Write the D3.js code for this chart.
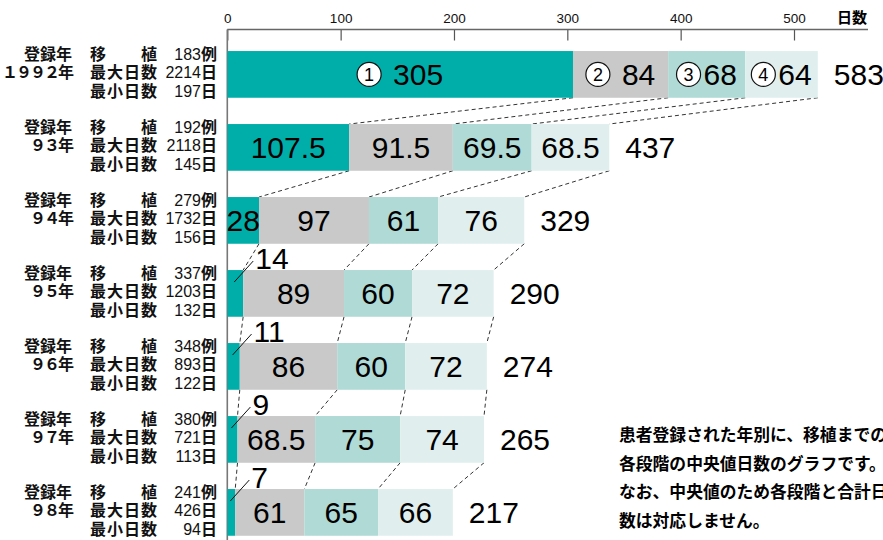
<!DOCTYPE html>
<html>
<head>
<meta charset="utf-8">
<script src="https://cdn.jsdelivr.net/npm/d3@7"></script>
<style>
body { margin: 0; background: #fff; }
svg { display: block; }
</style>
</head>
<body>
<div id="chart"></div>
<script>
// data
var years = ["1992", "93", "94", "95", "96", "97", "98"];
var yearLabels = ["１９９２年", "９３年", "９４年", "９５年", "９６年", "９７年", "９８年"];
var cases = [183, 192, 279, 337, 348, 380, 241];
var maxDays = [2214, 2118, 1732, 1203, 893, 721, 426];
var minDays = [197, 145, 156, 132, 122, 113, 94];
var stage1 = [305, 107.5, 28, 14, 11, 9, 7];
var stage2 = [84, 91.5, 97, 89, 86, 68.5, 61];
var stage3 = [68, 69.5, 61, 60, 60, 75, 65];
var stage4 = [64, 68.5, 76, 72, 72, 74, 66];
var totals = [583, 437, 329, 290, 274, 265, 217];
var tickValues = [0, 100, 200, 300, 400, 500];
var noteLines = [
    "患者登録された年別に、移植までの",
    "各段階の中央値日数のグラフです。",
    "なお、中央値のため各段階と合計日",
    "数は対応しません。"
];

var stages = [stage1, stage2, stage3, stage4];
var colours = ["#00aea9", "#c9c9c9", "#b0dad6", "#e0efee"];
var circled = ["1", "2", "3", "4"];

var width = 883, height = 540;
var numFont = "'Liberation Sans', Arial, sans-serif";
var jpFont = "'Noto Sans CJK JP', sans-serif";

var svg = d3.select("#chart")
.append("svg")
.attr("width", width)
.attr("height", height);

var x = d3.scaleLinear()
.domain([0, 500])
.range([227.3, 794]);

var y = d3.scaleBand()
.domain(years)
.range([37.9, 37.9 + 7 * 73])
.paddingInner(0.36)
.paddingOuter(0.18);

var bh = y.bandwidth();

// stacked table
var rows = years.map(function (yr, i) {
    var cum = 0;
    var segs = stages.map(function (s, k) {
        var seg = {stage: k, value: s[i], x0: cum, x1: cum + s[i]};
        cum += s[i];
        return seg;
    });
    return {year: yr, index: i, segs: segs, end: cum};
});

// axis
var axisY = 29.5;
var axis = svg.append("g")
.attr("transform", "translate(0," + axisY + ")")
.call(d3.axisTop(x).tickValues(tickValues).tickSize(-11).tickSizeOuter(0).tickPadding(7));
axis.select(".domain").remove();
axis.selectAll(".tick line").attr("stroke", "#555").attr("stroke-width", 1.2);
axis.selectAll(".tick text")
.style("font-family", numFont)
.style("font-size", "13.5px")
.attr("fill", "#111");

svg.append("line")
.attr("x1", x(0)).attr("x2", 868)
.attr("y1", axisY).attr("y2", axisY)
.attr("stroke", "#666").attr("stroke-width", 1.3);
svg.append("line")
.attr("x1", x(0)).attr("x2", x(0))
.attr("y1", axisY).attr("y2", height)
.attr("stroke", "#777").attr("stroke-width", 1.6);

svg.append("text")
.attr("x", 837).attr("y", 23)
.style("font-family", jpFont)
.style("font-size", "15px")
.style("font-weight", "700")
.text("日数");

// connectors between bars
var conn = [];
rows.forEach(function (r, i) {
    if (i == rows.length - 1) return;
    r.segs.forEach(function (s, k) {
        conn.push({x1: s.x1, y1: y(r.year) + bh, x2: rows[i + 1].segs[k].x1, y2: y(rows[i + 1].year)});
    });
});
svg.append("g")
.selectAll("line")
.data(conn)
.enter()
.append("line")
.attr("x1", function (d) { return x(d.x1); })
.attr("y1", function (d) { return d.y1; })
.attr("x2", function (d) { return x(d.x2); })
.attr("y2", function (d) { return d.y2; })
.attr("stroke", "#333")
.attr("stroke-width", 1)
.attr("stroke-dasharray", "4,3");

// bars
var rowG = svg.append("g")
.selectAll("g")
.data(rows)
.enter()
.append("g");

rowG.selectAll("rect")
.data(function (r) { return r.segs.map(function (s) { s.year = r.year; return s; }); })
.enter()
.append("rect")
.attr("x", function (s) { return x(s.x0); })
.attr("y", function (s) { return y(s.year); })
.attr("width", function (s) { return x(s.x1) - x(s.x0); })
.attr("height", bh)
.attr("fill", function (s) { return colours[s.stage]; });

// segment labels
rows.forEach(function (r, i) {
    var top = y(r.year);
    var mid = top + bh / 2;
    r.segs.forEach(function (s, k) {
        var cx = (x(s.x0) + x(s.x1)) / 2;
        if (k == 0 && s.value < 20) {
            var lx = (x(s.x0) + x(s.x1)) / 2 - 1;
            svg.append("line")
            .attr("x1", lx).attr("y1", top + 12)
            .attr("x2", lx + 19).attr("y2", top - 9)
            .attr("stroke", "#111").attr("stroke-width", 1);
            svg.append("text")
            .attr("x", lx + 21).attr("y", top - 1)
            .style("font-family", numFont)
            .style("font-size", "30px")
            .text(s.value);
            return;
        }
        if (i == 0) {
            var g = svg.append("g");
            var r0 = 12;
            var t = g.append("text")
            .attr("y", mid + 10.7)
            .style("font-family", numFont)
            .style("font-size", "30px")
            .text(s.value);
            var tw = t.node().getComputedTextLength();
            var segW = x(s.x1) - x(s.x0);
            var gap = segW > 90 ? 12 : 3;
            var left = cx - (2 * r0 + gap + tw) / 2;
            g.append("circle")
            .attr("cx", left + r0).attr("cy", mid)
            .attr("r", r0)
            .attr("fill", "#fff")
            .attr("stroke", "#111")
            .attr("stroke-width", 1.2);
            g.append("text")
            .attr("x", left + r0).attr("y", mid + 6.5)
            .attr("text-anchor", "middle")
            .style("font-family", numFont)
            .style("font-size", "18px")
            .text(circled[k]);
            t.attr("x", left + 2 * r0 + gap);
            return;
        }
        svg.append("text")
        .attr("x", cx).attr("y", mid + 10.7)
        .attr("text-anchor", "middle")
        .style("font-family", numFont)
        .style("font-size", "30px")
        .text(s.value);
    });
    svg.append("text")
    .attr("x", x(r.end) + 16).attr("y", mid + 10.7)
    .style("font-family", numFont)
    .style("font-size", "30px")
    .text(totals[i]);
});

// left labels
rows.forEach(function (r, i) {
    var top = y(r.year);
    var g = svg.append("g")
    .style("font-family", jpFont)
    .style("font-size", "16px")
    .style("font-weight", "700")
    .attr("fill", "#111");
    g.append("text").attr("x", 72).attr("y", top + 8.5).attr("text-anchor", "end").text("登録年");
    g.append("text").attr("x", 72).attr("y", top + 27).attr("text-anchor", "end")
    .style("letter-spacing", "-2px").text(yearLabels[i]);
    g.append("text").attr("x", 90).attr("y", top + 8.5)
    .attr("textLength", 67).text("移　　植");
    g.append("text").attr("x", 90).attr("y", top + 27)
    .attr("textLength", 67).text("最大日数");
    g.append("text").attr("x", 90).attr("y", top + 45.5)
    .attr("textLength", 67).text("最小日数");
    [[cases[i], "例"], [maxDays[i], "日"], [minDays[i], "日"]].forEach(function (v, j) {
        var t = g.append("text")
        .attr("x", 217).attr("y", top + 8.5 + j * 18.5)
        .attr("text-anchor", "end");
        t.append("tspan").style("font-family", numFont).style("font-weight", "400").text(v[0]);
        t.append("tspan").text(v[1]);
    });
});

// note
svg.append("g")
.selectAll("text")
.data(noteLines)
.enter()
.append("text")
.attr("x", 619)
.attr("y", function (d, i) { return 441 + i * 28.5; })
.style("font-family", jpFont)
.style("font-size", "16.8px")
.style("font-weight", "700")
.text(function (d) { return d; });
</script>
</body>
</html>
